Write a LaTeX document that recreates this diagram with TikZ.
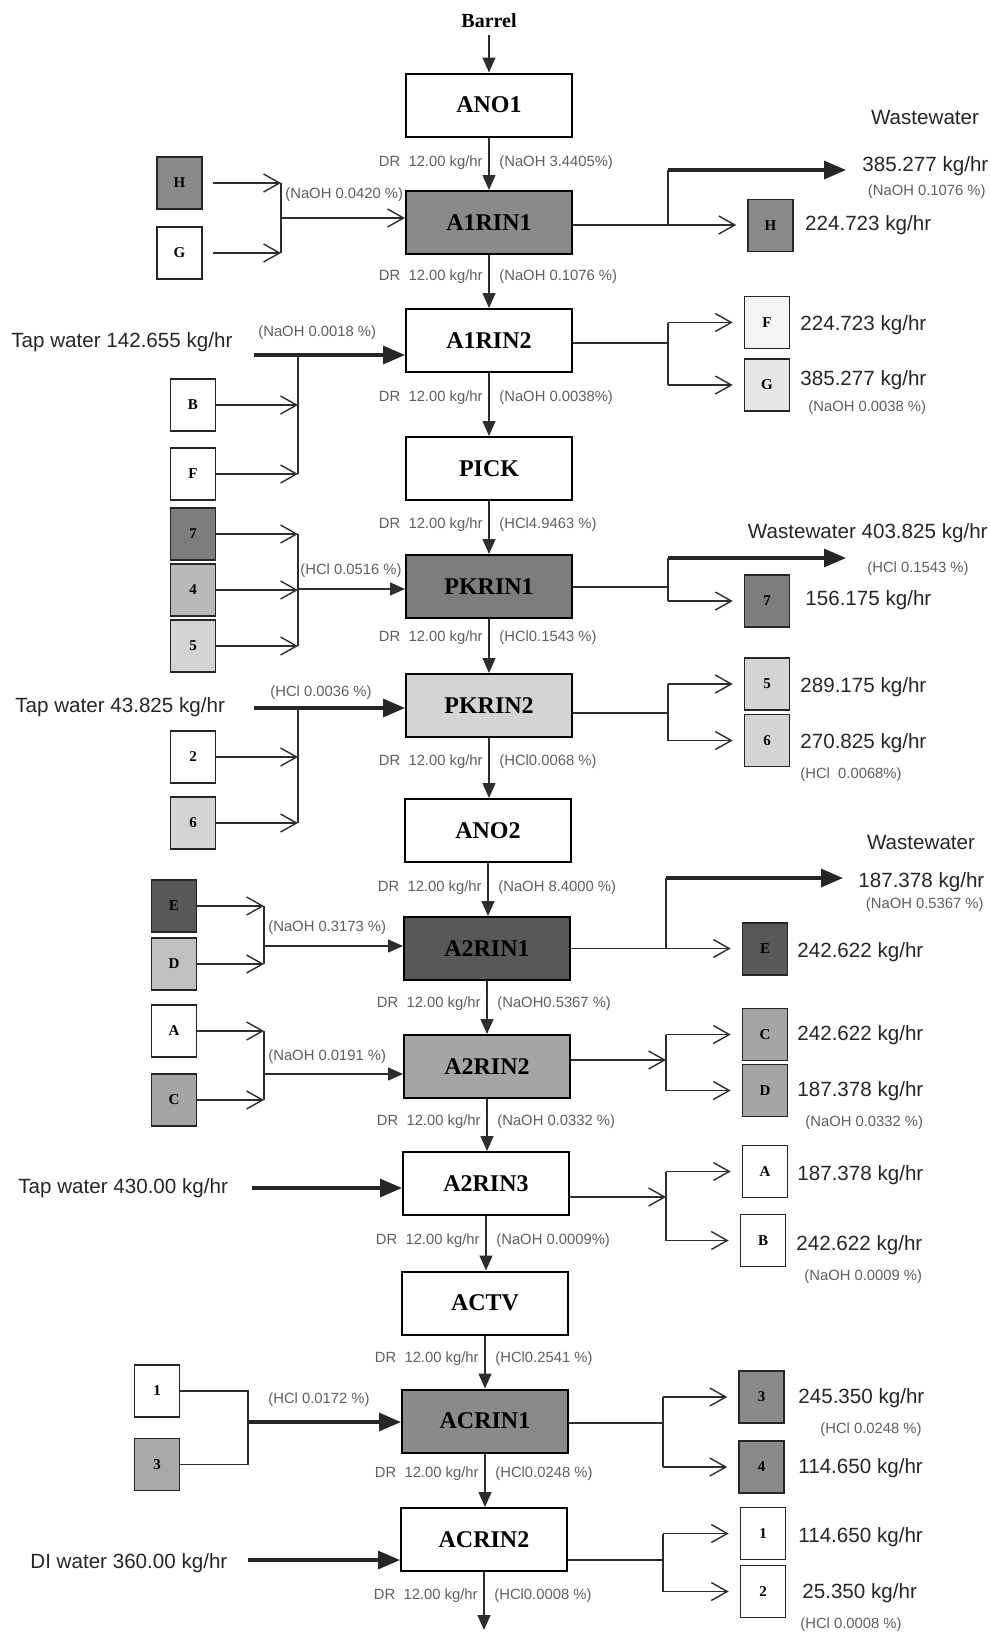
\documentclass[tikz,border=0pt]{standalone}
\usepackage{fontspec}
\setmainfont{Liberation Serif}
\setsansfont{Liberation Sans}
\usetikzlibrary{arrows.meta,positioning,calc}
\definecolor{linecol}{RGB}{45,45,45}
\definecolor{txtgrey}{RGB}{95,95,95}
\definecolor{fillH}{RGB}{138,138,138}
\definecolor{fillF}{RGB}{244,244,244}
\definecolor{fillG}{RGB}{230,230,230}
\definecolor{fillPKa}{RGB}{125,125,125}
\definecolor{fillPKb}{RGB}{212,212,212}
\definecolor{fillfour}{RGB}{185,185,185}
\definecolor{fillE}{RGB}{88,88,88}
\definecolor{fillD}{RGB}{192,192,192}
\definecolor{fillC}{RGB}{165,165,165}
\definecolor{fillAC}{RGB}{138,138,138}
\definecolor{fillthree}{RGB}{168,168,168}
\tikzset{
  proc/.style={draw=black,line width=1pt,minimum width=83pt,minimum height=31.5pt,
               inner sep=0pt,font=\fontsize{12}{14}\selectfont\bfseries},
  tag/.style={draw=black!85,line width=.8pt,minimum width=22.5pt,minimum height=26pt,
              inner sep=0pt,font=\fontsize{7.5}{9}\selectfont\bfseries},
  wire/.style={draw=linecol,line width=.7pt},
  flow/.style={wire,-{Triangle[length=7.5pt,width=6.5pt]}},
  feedin/.style={wire,-{Straight Barb[length=8pt,width=9pt]}},
  feedfill/.style={wire,-{Triangle[length=7.5pt,width=6.5pt]}},
  tapout/.style={feedin,shorten >=5.5pt},
  heavy/.style={draw=black!85,line width=1.6pt,-{Triangle[length=11pt,width=9pt]}},
  drtxt/.style={font=\sffamily\fontsize{7.4}{9}\selectfont,text=txtgrey,inner sep=1pt},
  bigtxt/.style={font=\sffamily\fontsize{10.3}{12}\selectfont,text=black!85,inner sep=0pt},
}

\begin{document}
\begin{tikzpicture}[x=.5pt,y=-.5pt]
  \fill[white] (0,0) rectangle (990,1634);
  \useasboundingbox (0,0) rectangle (990,1634);
  % --- main line
  \node[font=\fontsize{10}{12}\selectfont\bfseries] (barrel) at (489,21) {Barrel};
  \node[proc] (ano1) at (489,105) {ANO1};
  \node[proc,fill=fillH] (a1rin1) at (489,222.5) {A1RIN1};
  \node[proc] (a1rin2) at (489,340.5) {A1RIN2};
  \node[proc] (pick) at (489,468.5) {PICK};
  \node[proc,fill=fillPKa] (pkrin1) at (489,586.5) {PKRIN1};
  \node[proc,fill=fillPKb] (pkrin2) at (489,705.5) {PKRIN2};
  \node[proc] (ano2) at (488,830.5) {ANO2};
  \node[proc,fill=fillE] (a2rin1) at (487,948.5) {A2RIN1};
  \node[proc,fill=fillC] (a2rin2) at (487,1066.5) {A2RIN2};
  \node[proc] (a2rin3) at (486,1183.5) {A2RIN3};
  \node[proc] (actv) at (485,1303) {ACTV};
  \node[proc,fill=fillAC] (acrin1) at (485,1421) {ACRIN1};
  \node[proc] (acrin2) at (484,1539.5) {ACRIN2};
  \coordinate (outlet) at (484,1630);
  \draw[flow] (barrel.south) -- (ano1.north);
  \foreach \up/\dn/\yy/\pct in {ano1/a1rin1/163/{(NaOH 3.4405\%)},
      a1rin1/a1rin2/277/{(NaOH 0.1076 \%)}, a1rin2/pick/398/{(NaOH 0.0038\%)},
      pick/pkrin1/525/{(HCl4.9463 \%)}, pkrin1/pkrin2/638/{(HCl0.1543 \%)},
      pkrin2/ano2/762/{(HCl0.0068 \%)}, ano2/a2rin1/888/{(NaOH 8.4000 \%)},
      a2rin1/a2rin2/1004/{(NaOH0.5367 \%)}, a2rin2/a2rin3/1122/{(NaOH 0.0332 \%)},
      a2rin3/actv/1241/{(NaOH 0.0009\%)}, actv/acrin1/1359/{(HCl0.2541 \%)},
      acrin1/acrin2/1474/{(HCl0.0248 \%)}}{
    \draw[flow] (\up.south) -- (\up.south |- \dn.north);
    \coordinate (m) at (\up.south |- 0,\yy);
    \node[drtxt,left=2pt of m] (dr\up) {DR\ \ 12.00 kg/hr};
    \node[drtxt,right=4pt of m] (pc\up) {\pct};
  }
  \draw[flow] (acrin2.south) -- (outlet);
  \coordinate (m) at (acrin2.south |- 0,1596);
  \node[drtxt,left=2pt of m] (dracrin2) {DR\ \ 12.00 kg/hr};
  \node[drtxt,right=4pt of m] (pcacrin2) {(HCl0.0008 \%)};

  % --- feeds on the left
  % A1RIN1
  \node[tag,fill=fillH] (inH) at (179.5,183) {H};
  \node[tag,fill=white] (inG) at (179.5,253) {G};
  \coordinate (colA) at (281,218);
  \draw[feedin,shorten <=5pt] (inH.east) -- (colA |- inH.east);
  \draw[feedin,shorten <=5pt] (inG.east) -- (colA |- inG.east);
  \draw[wire] (colA |- inH.east) -- (colA |- inG.east);
  \draw[feedin] (colA) -- (colA -| a1rin1.west);
  \node[drtxt,anchor=west] (pcinA) at (283,195) {(NaOH 0.0420 \%)};
  % A1RIN2
  \node[bigtxt,anchor=west] (tap1) at (11,342) {Tap water 142.655 kg/hr};
  \coordinate (tw1) at (254,355);
  \draw[heavy] (tw1) -- (tw1 -| a1rin2.west);
  \node[drtxt,anchor=west] (pcinB) at (256,333) {(NaOH 0.0018 \%)};
  \node[tag,fill=white] (inB) at (193,405) {B};
  \node[tag,fill=white] (inF) at (193,474) {F};
  \coordinate (colB) at (298,355);
  \draw[feedin] (inB.east) -- (colB |- inB.east);
  \draw[feedin] (inF.east) -- (colB |- inF.east);
  \draw[wire] (colB) -- (colB |- inF.east);
  % PKRIN1
  \node[tag,fill=fillPKa] (in7) at (193,534) {7};
  \node[tag,fill=fillfour] (in4) at (193,590) {4};
  \node[tag,fill=fillPKb] (in5) at (193,646) {5};
  \coordinate (colC) at (298,589);
  \foreach \b in {in7,in4,in5}
    \draw[feedin] (\b.east) -- (colC |- \b.east);
  \draw[wire] (colC |- in7.east) -- (colC |- in5.east);
  \draw[feedfill] (colC) -- (colC -| pkrin1.west);
  \node[drtxt,anchor=west] (pcinC) at (298,571) {(HCl 0.0516 \%)};
  % PKRIN2
  \node[bigtxt,anchor=west] (tap2) at (15,707) {Tap water 43.825 kg/hr};
  \coordinate (tw2) at (254,708);
  \draw[heavy] (tw2) -- (tw2 -| pkrin2.west);
  \node[drtxt,anchor=west] (pcinD) at (268,693) {(HCl 0.0036 \%)};
  \node[tag,fill=white] (in2) at (193,757) {2};
  \node[tag,fill=fillPKb] (in6) at (193,823) {6};
  \coordinate (colD) at (298,708);
  \foreach \b in {in2,in6}
    \draw[feedin] (\b.east) -- (colD |- \b.east);
  \draw[wire] (colD) -- (colD |- in6.east);
  % A2RIN1
  \node[tag,fill=fillE] (inE) at (174,906) {E};
  \node[tag,fill=fillD] (inD) at (174,964) {D};
  \coordinate (colE) at (264,946);
  \foreach \b in {inE,inD}
    \draw[feedin] (\b.east) -- (colE |- \b.east);
  \draw[wire] (colE |- inE.east) -- (colE |- inD.east);
  \draw[feedfill] (colE) -- (colE -| a2rin1.west);
  \node[drtxt,anchor=west] (pcinE) at (266,928) {(NaOH 0.3173 \%)};
  % A2RIN2
  \node[tag,fill=white] (inA) at (174,1031) {A};
  \node[tag,fill=fillC] (inC) at (174,1100) {C};
  \coordinate (colF) at (264,1074);
  \foreach \b in {inA,inC}
    \draw[feedin] (\b.east) -- (colF |- \b.east);
  \draw[wire] (colF |- inA.east) -- (colF |- inC.east);
  \draw[feedfill] (colF) -- (colF -| a2rin2.west);
  \node[drtxt,anchor=west] (pcinF) at (266,1057) {(NaOH 0.0191 \%)};
  % A2RIN3
  \node[bigtxt,anchor=west] (tap3) at (18,1188) {Tap water 430.00 kg/hr};
  \coordinate (tw3) at (252,1188);
  \draw[heavy] (tw3) -- (tw3 -| a2rin3.west);
  % ACRIN1
  \node[tag,fill=white] (in1) at (157,1391) {1};
  \node[tag,fill=fillthree] (in3) at (157,1464.5) {3};
  \coordinate (colG) at (248,1422);
  \draw[wire] (in1.east) -- (colG |- in1.east) -- (colG |- in3.east) -- (in3.east);
  \draw[heavy] (colG) -- (colG -| acrin1.west);
  \node[drtxt,anchor=west] (pcinG) at (266,1400) {(HCl 0.0172 \%)};
  % ACRIN2
  \node[bigtxt,anchor=west] (diw) at (30,1563) {DI water 360.00 kg/hr};
  \coordinate (tw4) at (248,1560);
  \draw[heavy] (tw4) -- (tw4 -| acrin2.west);

  % --- outputs on the right
  % A1RIN1
  \node[tag,fill=fillH] (outH) at (770.5,225.5) {H};
  \coordinate (jA) at (668,225);
  \coordinate (wA) at (846,170);
  \draw[tapout] (jA -| a1rin1.east) -- (jA -| outH.west);
  \draw[wire] (jA) -- (jA |- wA);
  \draw[heavy] (jA |- wA) -- (wA);
  \node[bigtxt] (wwA) at (925,118) {Wastewater};
  \node[bigtxt,anchor=west] (kgwA) at (862,166) {385.277 kg/hr};
  \node[drtxt,anchor=east] (pcwA) at (988,192) {(NaOH 0.1076 \%)};
  \node[bigtxt,right=5.5pt of outH] (kgH) {224.723 kg/hr};
  % A1RIN2
  \node[tag,fill=fillF] (outF) at (767,322.5) {F};
  \node[tag,fill=fillG] (outG) at (767,385) {G};
  \coordinate (jB) at (668,343);
  \draw[wire] (jB -| a1rin2.east) -- (jB);
  \draw[wire] (jB |- outF.west) -- (jB |- outG.west);
  \foreach \b in {outF,outG}
    \draw[tapout] (jB |- \b.west) -- (\b.west);
  \node[bigtxt,anchor=west] (kgF) at (800,325) {224.723 kg/hr};
  \node[bigtxt,anchor=west] (kgG) at (800,380) {385.277 kg/hr};
  \node[drtxt,anchor=west] (pcG) at (806,408) {(NaOH 0.0038 \%)};
  % PKRIN1
  \node[tag,fill=fillPKa] (out7) at (767,601) {7};
  \coordinate (jC) at (668,587);
  \coordinate (wC) at (846,558);
  \draw[wire] (jC -| pkrin1.east) -- (jC);
  \draw[wire] (jC |- wC) -- (jC |- out7.west);
  \draw[tapout] (jC |- out7.west) -- (out7.west);
  \draw[heavy] (jC |- wC) -- (wC);
  \node[bigtxt,anchor=east] (wwC) at (988,533) {Wastewater 403.825 kg/hr};
  \node[drtxt,anchor=west] (pcwC) at (865,569) {(HCl 0.1543 \%)};
  \node[bigtxt,anchor=west] (kg7) at (805,600) {156.175 kg/hr};
  % PKRIN2
  \node[tag,fill=fillPKb] (out5) at (767,684) {5};
  \node[tag,fill=fillPKb] (out6) at (767,740.5) {6};
  \coordinate (jD) at (668,713);
  \draw[wire] (jD -| pkrin2.east) -- (jD);
  \draw[wire] (jD |- out5.west) -- (jD |- out6.west);
  \foreach \b in {out5,out6}
    \draw[tapout] (jD |- \b.west) -- (\b.west);
  \node[bigtxt,anchor=west] (kg5) at (800,687) {289.175 kg/hr};
  \node[bigtxt,anchor=west] (kg6) at (800,743) {270.825 kg/hr};
  \node[drtxt,anchor=west] (pc6) at (798,775) {(HCl\ \ 0.0068\%)};
  % A2RIN1
  \node[tag,fill=fillE] (outE) at (765,949) {E};
  \coordinate (jE) at (666,948.5);
  \coordinate (wE) at (843,878);
  \draw[tapout] (jE -| a2rin1.east) -- (jE -| outE.west);
  \draw[wire] (jE) -- (jE |- wE);
  \draw[heavy] (jE |- wE) -- (wE);
  \node[bigtxt] (wwE) at (921,843) {Wastewater};
  \node[bigtxt,anchor=west] (kgwE) at (858,882) {187.378 kg/hr};
  \node[drtxt,anchor=east] (pcwE) at (986,905) {(NaOH 0.5367 \%)};
  \node[bigtxt,anchor=west] (kgE) at (797,952) {242.622 kg/hr};
  % A2RIN2
  \node[tag,fill=fillC] (outC) at (765,1034.5) {C};
  \node[tag,fill=fillC] (outD) at (765,1090.5) {D};
  \coordinate (jF) at (666,1060);
  \draw[feedin] (jF -| a2rin2.east) -- (jF);
  \draw[wire] (jF |- outC.west) -- (jF |- outD.west);
  \foreach \b in {outC,outD}
    \draw[tapout] (jF |- \b.west) -- (\b.west);
  \node[bigtxt,anchor=west] (kgC) at (797,1035) {242.622 kg/hr};
  \node[bigtxt,anchor=west] (kgD) at (797,1091) {187.378 kg/hr};
  \node[drtxt,anchor=west] (pcD) at (803,1123) {(NaOH 0.0332 \%)};
  % A2RIN3
  \node[tag,fill=white] (outA) at (765,1171.5) {A};
  \node[tag,fill=white] (outB) at (763,1240.5) {B};
  \coordinate (jG) at (666,1197);
  \draw[feedin] (jG -| a2rin3.east) -- (jG);
  \draw[wire] (jG |- outA.west) -- (jG |- outB.west);
  \foreach \b in {outA,outB}
    \draw[tapout] (jG |- \b.west) -- (\b.west);
  \node[bigtxt,anchor=west] (kgA) at (797,1175) {187.378 kg/hr};
  \node[bigtxt,anchor=west] (kgB) at (796,1245) {242.622 kg/hr};
  \node[drtxt,anchor=west] (pcB) at (802,1277) {(NaOH 0.0009 \%)};
  % ACRIN1
  \node[tag,fill=fillAC] (out3) at (761.5,1397) {3};
  \node[tag,fill=fillAC] (out4) at (761.5,1467) {4};
  \coordinate (jH) at (663,1423);
  \draw[wire] (jH -| acrin1.east) -- (jH);
  \draw[wire] (jH |- out3.west) -- (jH |- out4.west);
  \foreach \b in {out3,out4}
    \draw[tapout] (jH |- \b.west) -- (\b.west);
  \node[bigtxt,anchor=west] (kg3) at (798,1398) {245.350 kg/hr};
  \node[drtxt,anchor=west] (pc3) at (818,1430) {(HCl 0.0248 \%)};
  \node[bigtxt,anchor=west] (kg4) at (798,1468) {114.650 kg/hr};
  % ACRIN2
  \node[tag,fill=white] (out1) at (763,1533.5) {1};
  \node[tag,fill=white] (out2) at (763,1591.5) {2};
  \coordinate (jI) at (663,1560);
  \draw[wire] (jI -| acrin2.east) -- (jI);
  \draw[wire] (jI |- out1.west) -- (jI |- out2.west);
  \foreach \b in {out1,out2}
    \draw[tapout] (jI |- \b.west) -- (\b.west);
  \node[bigtxt,anchor=west] (kg1) at (798,1537) {114.650 kg/hr};
  \node[bigtxt,anchor=west] (kg2) at (802,1593) {25.350 kg/hr};
  \node[drtxt,anchor=west] (pc2) at (798,1625) {(HCl 0.0008 \%)};
\end{tikzpicture}
\end{document}
